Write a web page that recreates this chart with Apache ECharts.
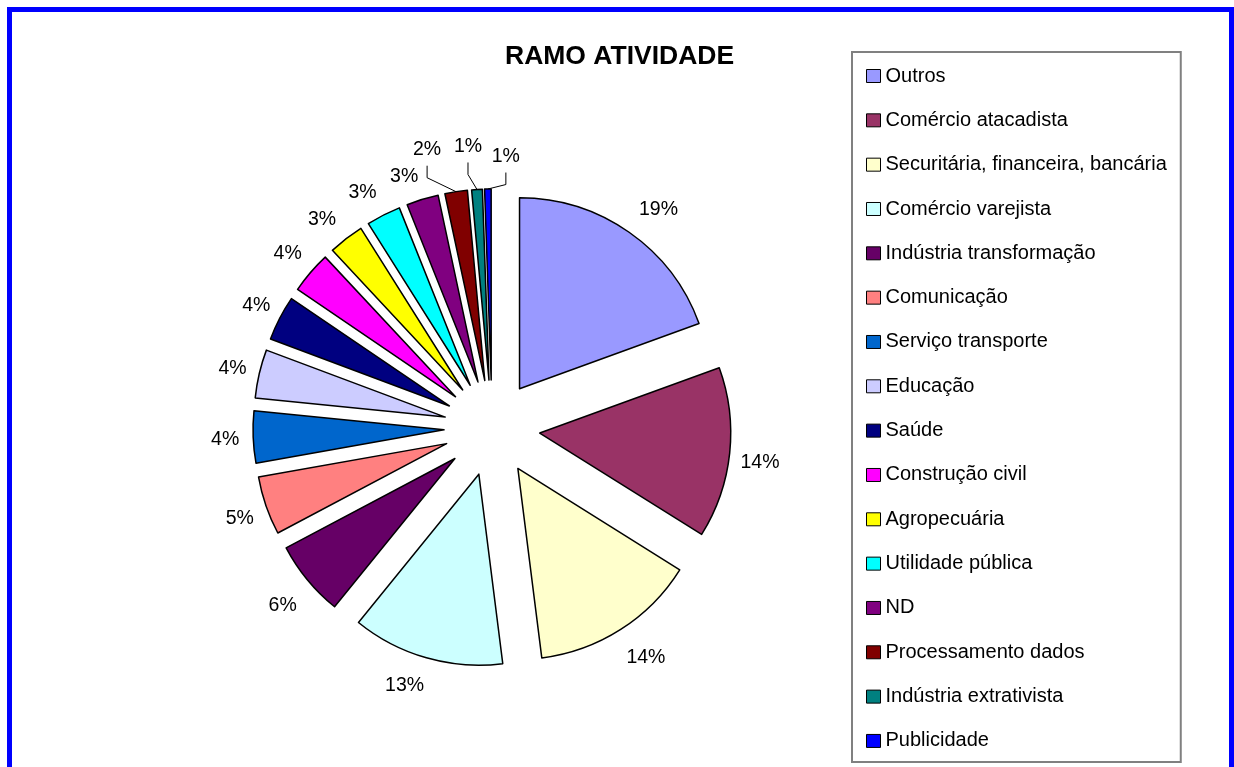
<!DOCTYPE html>
<html>
<head>
<meta charset="utf-8">
<script src="https://cdn.jsdelivr.net/npm/echarts@6/dist/echarts.min.js"></script>
<style>
html,body{margin:0;padding:0;background:#fff;}
#c{width:1234px;height:767px;}
</style>
</head>
<body>
<div id="c"></div>
<script>
// ---- data ----
const chartTitle = 'RAMO ATIVIDADE';
const categories = [
  'Outros',
  'Comércio atacadista',
  'Securitária, financeira, bancária',
  'Comércio varejista',
  'Indústria transformação',
  'Comunicação',
  'Serviço transporte',
  'Educação',
  'Saúde',
  'Construção civil',
  'Agropecuária',
  'Utilidade pública',
  'ND',
  'Processamento dados',
  'Indústria extrativista',
  'Publicidade'
];
const shares = [19.45, 14.45, 14.1, 12.85, 6.4, 4.95, 4.4, 4.1, 3.8, 3.55, 3.0, 2.9, 2.7, 1.9, 0.9, 0.55];
const sliceColors = [
  '#9999FF', '#993366', '#FFFFCC', '#CCFFFF', '#660066', '#FF8080', '#0066CC', '#CCCCFF',
  '#000080', '#FF00FF', '#FFFF00', '#00FFFF', '#800080', '#800000', '#008080', '#0000FF'
];

// ---- style ----
const FONT = "'Liberation Sans', Arial, sans-serif";
const CENTER = [492, 428];
const RADIUS = 191;
const EXPLODE = 48;
const LABEL_RING = 268;
const leaderCount = 3; // last slices use leader lines
// label offsets (px) for leader-line labels, from the slice's outer edge point
const leaderOffset = { 13: [-29, -42], 14: [-9, -43], 15: [18, -32.5] };
// small label nudges (px) for the ring labels
const labelNudge = {
  0: [11, 3.5], 1: [-1.5, 6], 2: [8, 1], 3: [-13, -3], 4: [0, 6], 5: [4, 2], 6: [4, 1],
  7: [4.5, 2.5], 8: [5, 2], 9: [1.5, 1.5], 10: [-4.5, 6], 11: [-6.5, 6.5], 12: [-9, 7.5]
};

const chart = echarts.init(document.getElementById('c'), null, { renderer: 'canvas' });

const firstLeader = categories.length - leaderCount;

const option = {
  animation: false,
  backgroundColor: '#ffffff',
  title: {
    text: chartTitle,
    left: 505,
    top: 43,
    padding: 0,
    textStyle: { fontFamily: FONT, fontSize: 26.5, fontWeight: 'bold', color: '#000' }
  },
  legend: {
    orient: 'vertical',
    left: 852,
    top: 52,
    padding: [14, 14, 11, 14],
    itemGap: 24.33,
    itemWidth: 14,
    itemHeight: 13,
    itemTextGap: 5,
    icon: 'rect',
    selectedMode: false,
    borderColor: '#808080',
    borderWidth: 2,
    itemStyle: { borderColor: '#000', borderWidth: 1 },
    textStyle: { fontFamily: FONT, fontSize: 20, lineHeight: 20, color: '#000' },
    data: categories
  },
  graphic: [{
    type: 'rect',
    shape: { x: 9.5, y: 9.5, width: 1222, height: 780 },
    style: { fill: 'none', stroke: '#0000ff', lineWidth: 5 },
    silent: true
  }],
  series: [
    {
      type: 'pie',
      center: CENTER,
      radius: RADIUS,
      startAngle: 90,
      clockwise: true,
      selectedMode: 'multiple',
      selectedOffset: EXPLODE,
      avoidLabelOverlap: false,
      percentPrecision: 0,
      emphasis: { disabled: true },
      itemStyle: { borderColor: '#000', borderWidth: 1.5 },
      label: { show: false },
      labelLine: { show: false },
      labelLayout: function (p) {
        const off = leaderOffset[p.dataIndex];
        if (!off || !p.labelLinePoints) return {};
        const p0 = p.labelLinePoints[0];
        let ux = p0[0] - CENTER[0], uy = p0[1] - CENTER[1];
        const d = Math.sqrt(ux * ux + uy * uy) || 1;
        ux /= d; uy /= d;
        const ox = ux * EXPLODE, oy = uy * EXPLODE;
        // raw (unexploded) edge point
        const raw = d > RADIUS + EXPLODE / 2 ? [p0[0] - ox, p0[1] - oy] : p0;
        const tx = raw[0] + ox + off[0], ty = raw[1] + oy + off[1];
        const r = p.labelRect;
        let cx = r.x + r.width / 2, cy = r.y + r.height / 2;
        const cd = Math.sqrt((cx - CENTER[0]) * (cx - CENTER[0]) + (cy - CENTER[1]) * (cy - CENTER[1]));
        if (cd < RADIUS + EXPLODE + 10) { cx += ox; cy += oy; }
        return {
          dx: tx - cx, dy: ty - cy,
          labelLinePoints: [raw, [tx - ox, ty + 28 - oy], [tx - ox, ty + 16 - oy]]
        };
      },
      data: categories.map((name, i) => {
        const item = {
          name: name,
          value: shares[i],
          selected: true,
          itemStyle: { color: sliceColors[i] }
        };
        if (i >= firstLeader) {
          item.label = {
            show: true, position: 'outside', formatter: '{d}%',
            fontFamily: FONT, fontSize: 19.5, color: '#000'
          };
          item.labelLine = {
            show: true, length: 35, length2: 0,
            lineStyle: { color: '#000', width: 1 }
          };
        }
        return item;
      })
    },
    {
      type: 'pie',
      center: CENTER,
      radius: [LABEL_RING - 8, LABEL_RING + 8],
      startAngle: 90,
      clockwise: true,
      silent: true,
      legendHoverLink: false,
      percentPrecision: 0,
      emphasis: { disabled: true },
      itemStyle: { color: 'rgba(0,0,0,0)', borderWidth: 0 },
      label: {
        show: true, position: 'inside', formatter: '{d}%',
        fontFamily: FONT, fontSize: 19.5, color: '#000'
      },
      labelLine: { show: false },
      labelLayout: function (p) {
        const n = labelNudge[p.dataIndex];
        return n ? { dx: n[0], dy: n[1] } : {};
      },
      data: categories.map((name, i) => ({
        name: name,
        value: shares[i],
        label: { show: i < firstLeader }
      }))
    }
  ]
};

chart.setOption(option);
</script>
</body>
</html>
